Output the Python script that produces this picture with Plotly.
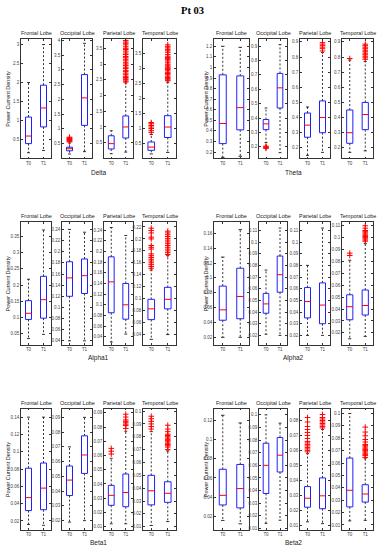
import plotly.graph_objects as go

# ---------------- data ----------------
bands = ["Delta", "Theta", "Alpha1", "Alpha2", "Beta1", "Beta2"]
lobes = ["Frontal Lobe", "Occipital Lobe", "Parietal Lobe", "Temporal Lobe"]
sessions = ["T0", "T1"]
main_title = "Pt 03"
y_title = "Power Current Density"

# per lobe: [T0, T1]
delta_low = [[0.15, 0.21], [0.15, 0.23], [0.15, 0.20], [0.15, 0.20]]
delta_q1 = [[0.39, 0.83], [0.26, 1.12], [0.30, 0.65], [0.27, 0.70]]
delta_med = [[0.59, 1.33], [0.33, 2.05], [0.47, 1.00], [0.38, 1.05]]
delta_q3 = [[1.09, 1.93], [0.38, 2.84], [0.72, 1.35], [0.55, 1.43]]
delta_high = [[2.00, 3.00], [0.52, 3.90], [0.88, 2.40], [0.80, 2.55]]
delta_out = [
    [[], []],
    [[0.56, 0.58, 0.6, 0.62, 0.64, 0.66, 0.68, 0.7, 0.72], []],
    [[], [2.43, 2.46, 2.5, 2.53, 2.57, 2.61, 2.66, 2.71, 2.76, 2.8, 2.86, 2.9, 2.95, 3.0,
          3.04, 3.1, 3.15, 3.2, 3.24, 3.3, 3.35, 3.41, 3.46, 3.5, 3.55, 3.61, 3.66, 3.7, 3.75]],
    [[0.87, 0.93, 1.0, 1.05, 1.1, 1.16, 1.2],
     [2.6, 2.63, 2.67, 2.71, 2.75, 2.8, 2.84, 2.88, 2.93, 2.97, 3.0, 3.03, 3.06, 3.1, 3.15,
      3.2, 3.26, 3.3, 3.34, 3.38, 3.42, 3.48, 3.55, 3.6, 3.65, 3.7, 3.75, 3.8]],
]
delta_range = [[0, 3.15], [0, 4.05], [0, 3.8], [0, 4.0]]
delta_ticks = [[0.5, 1, 1.5, 2, 2.5, 3], [0.5, 1, 1.5, 2, 2.5, 3, 3.5, 4],
               [0.5, 1, 1.5, 2, 2.5, 3, 3.5], [0.5, 1, 1.5, 2, 2.5, 3, 3.5]]

theta_low = [[0.15, 0.16], [0.23, 0.16], [0.15, 0.17], [0.17, 0.18]]
theta_q1 = [[0.28, 0.41], [0.32, 0.47], [0.27, 0.30], [0.23, 0.32]]
theta_med = [[0.47, 0.62], [0.36, 0.61], [0.35, 0.40], [0.30, 0.42]]
theta_q3 = [[0.93, 0.92], [0.39, 0.71], [0.43, 0.51], [0.45, 0.50]]
theta_high = [[1.20, 1.19], [0.47, 0.91], [0.47, 0.83], [0.78, 0.77]]
theta_out = [
    [[], []],
    [[0.19, 0.195, 0.2, 0.205], []],
    [[], [0.84, 0.855, 0.865, 0.875, 0.885, 0.895]],
    [[0.79], [0.785, 0.795, 0.805, 0.815, 0.825, 0.835, 0.845, 0.855, 0.865, 0.875, 0.885]],
]
theta_range = [[0.14, 1.27], [0.12, 0.95], [0.13, 0.92], [0.13, 0.92]]
theta_ticks = [[0.2, 0.3, 0.4, 0.5, 0.6, 0.7, 0.8, 0.9, 1, 1.1, 1.2],
               [0.2, 0.3, 0.4, 0.5, 0.6, 0.7, 0.8, 0.9],
               [0.2, 0.3, 0.4, 0.5, 0.6, 0.7, 0.8, 0.9],
               [0.2, 0.3, 0.4, 0.5, 0.6, 0.7, 0.8, 0.9]]

alpha1_low = [[0.035, 0.048], [0.040, 0.040], [0.030, 0.045], [0.032, 0.040]]
alpha1_q1 = [[0.094, 0.098], [0.120, 0.125], [0.085, 0.073], [0.065, 0.083]]
alpha1_med = [[0.113, 0.155], [0.153, 0.157], [0.143, 0.100], [0.083, 0.099]]
alpha1_q3 = [[0.152, 0.227], [0.182, 0.187], [0.190, 0.140], [0.099, 0.119]]
alpha1_high = [[0.218, 0.370], [0.240, 0.235], [0.245, 0.230], [0.148, 0.172]]
alpha1_out = [
    [[], []],
    [[], []],
    [[], []],
    [[0.151, 0.154, 0.157, 0.16, 0.163, 0.166, 0.169, 0.172, 0.175, 0.183, 0.186,
      0.189, 0.2, 0.203, 0.21, 0.214, 0.218],
     [0.174, 0.177, 0.18, 0.183, 0.186, 0.189, 0.192, 0.195, 0.198, 0.201, 0.204,
      0.207, 0.21, 0.213]],
]
alpha1_range = [[0.016, 0.394], [0.033, 0.253], [0.025, 0.255], [0.023, 0.228]]
alpha1_ticks = [[0.05, 0.1, 0.15, 0.2, 0.25, 0.3, 0.35],
                [0.04, 0.06, 0.08, 0.1, 0.12, 0.14, 0.16, 0.18, 0.2, 0.22, 0.24],
                [0.04, 0.06, 0.08, 0.1, 0.12, 0.14, 0.16, 0.18, 0.2, 0.22, 0.24],
                [0.04, 0.06, 0.08, 0.1, 0.12, 0.14, 0.16, 0.18, 0.2, 0.22]]

alpha2_low = [[0.020, 0.020], [0.021, 0.020], [0.020, 0.020], [0.015, 0.017]]
alpha2_q1 = [[0.043, 0.045], [0.039, 0.057], [0.035, 0.030], [0.031, 0.035]]
alpha2_med = [[0.057, 0.075], [0.047, 0.072], [0.049, 0.046], [0.042, 0.043]]
alpha2_q3 = [[0.089, 0.113], [0.056, 0.088], [0.061, 0.065], [0.052, 0.056]]
alpha2_high = [[0.128, 0.165], [0.076, 0.112], [0.080, 0.112], [0.081, 0.095]]
alpha2_out = [
    [[], []],
    [[], []],
    [[], []],
    [[0.085, 0.087],
     [0.097, 0.098, 0.099, 0.1, 0.101, 0.102, 0.103, 0.104, 0.105, 0.106, 0.108, 0.11]],
]
alpha2_range = [[0.01, 0.175], [0.012, 0.117], [0.012, 0.117], [0.01, 0.113]]
alpha2_ticks = [[0.02, 0.04, 0.06, 0.08, 0.1, 0.12, 0.14, 0.16],
                [0.02, 0.03, 0.04, 0.05, 0.06, 0.07, 0.08, 0.09, 0.1, 0.11],
                [0.02, 0.03, 0.04, 0.05, 0.06, 0.07, 0.08, 0.09, 0.1, 0.11],
                [0.02, 0.03, 0.04, 0.05, 0.06, 0.07, 0.08, 0.09, 0.1, 0.11]]

beta1_low = [[0.016, 0.015], [0.019, 0.020], [0.012, 0.012], [0.011, 0.014]]
beta1_q1 = [[0.032, 0.033], [0.037, 0.052], [0.025, 0.024], [0.027, 0.029]]
beta1_med = [[0.047, 0.058], [0.0475, 0.0645], [0.032, 0.034], [0.038, 0.036]]
beta1_q3 = [[0.081, 0.087], [0.057, 0.0775], [0.039, 0.047], [0.050, 0.045]]
beta1_high = [[0.140, 0.140], [0.070, 0.090], [0.058, 0.077], [0.084, 0.069]]
beta1_out = [
    [[], []],
    [[], []],
    [[0.061, 0.063, 0.065], [0.079, 0.081, 0.082, 0.083, 0.084, 0.085, 0.087, 0.089]],
    [[0.086, 0.088, 0.09, 0.092, 0.094, 0.096],
     [0.07, 0.072, 0.073, 0.074, 0.075, 0.076, 0.077, 0.078, 0.079, 0.08, 0.081,
      0.082, 0.084, 0.086, 0.089]],
]
beta1_range = [[0.0095, 0.15], [0.0136, 0.096], [0.0076, 0.093], [0.0074, 0.102]]
beta1_ticks = [[0.02, 0.04, 0.06, 0.08, 0.1, 0.12, 0.14],
               [0.02, 0.03, 0.04, 0.05, 0.06, 0.07, 0.08, 0.09],
               [0.01, 0.02, 0.03, 0.04, 0.05, 0.06, 0.07, 0.08, 0.09],
               [0.01, 0.02, 0.03, 0.04, 0.05, 0.06, 0.07, 0.08, 0.09, 0.1]]

beta2_low = [[0.016, 0.0125], [0.014, 0.0165], [0.0122, 0.011], [0.0133, 0.0137]]
beta2_q1 = [[0.032, 0.029], [0.0377, 0.0547], [0.022, 0.021], [0.0246, 0.0285]]
beta2_med = [[0.042, 0.049], [0.060, 0.068], [0.028, 0.0296], [0.038, 0.035]]
beta2_q3 = [[0.069, 0.074], [0.0775, 0.082], [0.0358, 0.0416], [0.064, 0.0425]]
beta2_high = [[0.125, 0.117], [0.100, 0.0934], [0.0578, 0.074], [0.100, 0.064]]
beta2_out = [
    [[], []],
    [[], []],
    [[0.059, 0.06, 0.061, 0.062, 0.063, 0.064, 0.065, 0.066, 0.068, 0.07, 0.072,
      0.074, 0.076, 0.079, 0.082],
     [0.075, 0.076, 0.077, 0.078, 0.079, 0.08, 0.081, 0.082, 0.084]],
    [[], [0.0645, 0.066, 0.067, 0.068, 0.069, 0.07, 0.071, 0.072, 0.073, 0.074, 0.075,
          0.077, 0.079, 0.082, 0.085, 0.089]],
]
beta2_range = [[0.006, 0.132], [0.0087, 0.105], [0.0067, 0.088], [0.0059, 0.104]]
beta2_ticks = [[0.02, 0.04, 0.06, 0.08, 0.1, 0.12],
               [0.01, 0.02, 0.03, 0.04, 0.05, 0.06, 0.07, 0.08, 0.09, 0.1],
               [0.01, 0.02, 0.03, 0.04, 0.05, 0.06, 0.07, 0.08],
               [0.01, 0.02, 0.03, 0.04, 0.05, 0.06, 0.07, 0.08, 0.09, 0.1]]

band_data = [
    (delta_low, delta_q1, delta_med, delta_q3, delta_high, delta_out, delta_range, delta_ticks),
    (theta_low, theta_q1, theta_med, theta_q3, theta_high, theta_out, theta_range, theta_ticks),
    (alpha1_low, alpha1_q1, alpha1_med, alpha1_q3, alpha1_high, alpha1_out, alpha1_range, alpha1_ticks),
    (alpha2_low, alpha2_q1, alpha2_med, alpha2_q3, alpha2_high, alpha2_out, alpha2_range, alpha2_ticks),
    (beta1_low, beta1_q1, beta1_med, beta1_q3, beta1_high, beta1_out, beta1_range, beta1_ticks),
    (beta2_low, beta2_q1, beta2_med, beta2_q3, beta2_high, beta2_out, beta2_range, beta2_ticks),
]

# ---------------- layout geometry (pixels) ----------------
W, H = 379, 550
col_panels = [
    [(21, 51), (62, 92), (104, 133), (143, 176)],
    [(214, 249), (259, 287), (300, 330), (342, 373)],
]
row_px = [(38, 158), (222, 345), (409, 531)]
band_label_y = [172, 358, 543]
ylabel_x = [8, 206]

FONT = "Liberation Sans, Arial, sans-serif"
BOX_COLOR = "#2020ff"
MED_COLOR = "#ff0000"


def px_x(v):
    return v / W


def px_y(v):
    return 1 - v / H


fig = go.Figure()
layout = {}
annotations = []

hw, cw = 0.2, 0.1
k = 0
for b, band in enumerate(bands):
    row, col = b // 2, b % 2
    low, q1, med, q3, high, outs, rngs, tick_sets = band_data[b]
    y0, y1 = row_px[row]
    for l, lobe in enumerate(lobes):
        k += 1
        xa, ya = f"x{k}", f"y{k}"
        x0, x1 = col_panels[col][l]
        bx, by, mx, my, wx, wy, cx, cy, ox, oy = [], [], [], [], [], [], [], [], [], []
        for s in range(len(sessions)):
            xs = s + 1
            bx += [xs - hw, xs + hw, xs + hw, xs - hw, xs - hw, None]
            by += [q1[l][s], q1[l][s], q3[l][s], q3[l][s], q1[l][s], None]
            mx += [xs - hw, xs + hw, None]
            my += [med[l][s], med[l][s], None]
            wx += [xs, xs, None, xs, xs, None]
            wy += [q3[l][s], high[l][s], None, q1[l][s], low[l][s], None]
            cx += [xs - cw, xs + cw, None, xs - cw, xs + cw, None]
            cy += [high[l][s], high[l][s], None, low[l][s], low[l][s], None]
            ox += [xs] * len(outs[l][s])
            oy += outs[l][s]
        common = dict(xaxis=xa, yaxis=ya, showlegend=False, hoverinfo="skip")
        fig.add_trace(go.Scatter(x=wx, y=wy, mode="lines",
                                 line=dict(color="#000000", width=0.8, dash="2px,2px"), **common))
        fig.add_trace(go.Scatter(x=cx, y=cy, mode="lines",
                                 line=dict(color="#000000", width=0.8), **common))
        fig.add_trace(go.Scatter(x=bx, y=by, mode="lines",
                                 line=dict(color=BOX_COLOR, width=1), **common))
        fig.add_trace(go.Scatter(x=mx, y=my, mode="lines",
                                 line=dict(color=MED_COLOR, width=1), **common))
        if ox:
            fig.add_trace(go.Scatter(x=ox, y=oy, mode="markers",
                                     marker=dict(symbol="cross-thin", size=4,
                                                 line=dict(color=MED_COLOR, width=1)),
                                     **common))
        axis_common = dict(showline=True, linecolor="#333333", linewidth=0.8, mirror="ticks",
                           ticks="inside", ticklen=2, tickwidth=0.6, tickcolor="#333333",
                           showgrid=False, zeroline=False, fixedrange=True,
                           tickfont=dict(family=FONT, size=4.5, color="#444444"))
        layout["xaxis" + ("" if k == 1 else str(k))] = dict(
            domain=[px_x(x0), px_x(x1)], anchor=ya, range=[0.5, 2.5],
            tickvals=[1, 2], ticktext=sessions, **axis_common)
        layout["yaxis" + ("" if k == 1 else str(k))] = dict(
            domain=[px_y(y1), px_y(y0)], anchor=xa, range=rngs[l],
            tickvals=tick_sets[l], **axis_common)
        annotations.append(dict(text=lobe, x=px_x((x0 + x1) / 2), y=px_y(y0 - 1),
                                xref="paper", yref="paper", xanchor="center", yanchor="bottom",
                                showarrow=False, font=dict(family=FONT, size=5.5, color="#222222")))
    gx0 = col_panels[col][0][0]
    gx1 = col_panels[col][-1][1]
    annotations.append(dict(text=band, x=px_x((gx0 + gx1) / 2), y=px_y(band_label_y[row]),
                            xref="paper", yref="paper", xanchor="center", yanchor="middle",
                            showarrow=False, font=dict(family=FONT, size=6.5, color="#222222")))
    annotations.append(dict(text=y_title, x=px_x(ylabel_x[col]), y=px_y((y0 + y1) / 2),
                            xref="paper", yref="paper", xanchor="center", yanchor="middle",
                            textangle=-90, showarrow=False,
                            font=dict(family=FONT, size=5.5, color="#222222")))

annotations.append(dict(text="<b>" + main_title + "</b>", x=px_x(192), y=px_y(10),
                        xref="paper", yref="paper", xanchor="center", yanchor="middle",
                        showarrow=False,
                        font=dict(family="Liberation Serif, Times New Roman, serif", size=10.5,
                                  color="#000000")))

fig.update_layout(width=W, height=H, margin=dict(l=0, r=0, t=0, b=0),
                  paper_bgcolor="white", plot_bgcolor="white",
                  annotations=annotations, **layout)

fig.write_html("out.html", config={"displayModeBar": False},
               post_script="document.body.style.margin='0';document.body.style.overflow='hidden';")
